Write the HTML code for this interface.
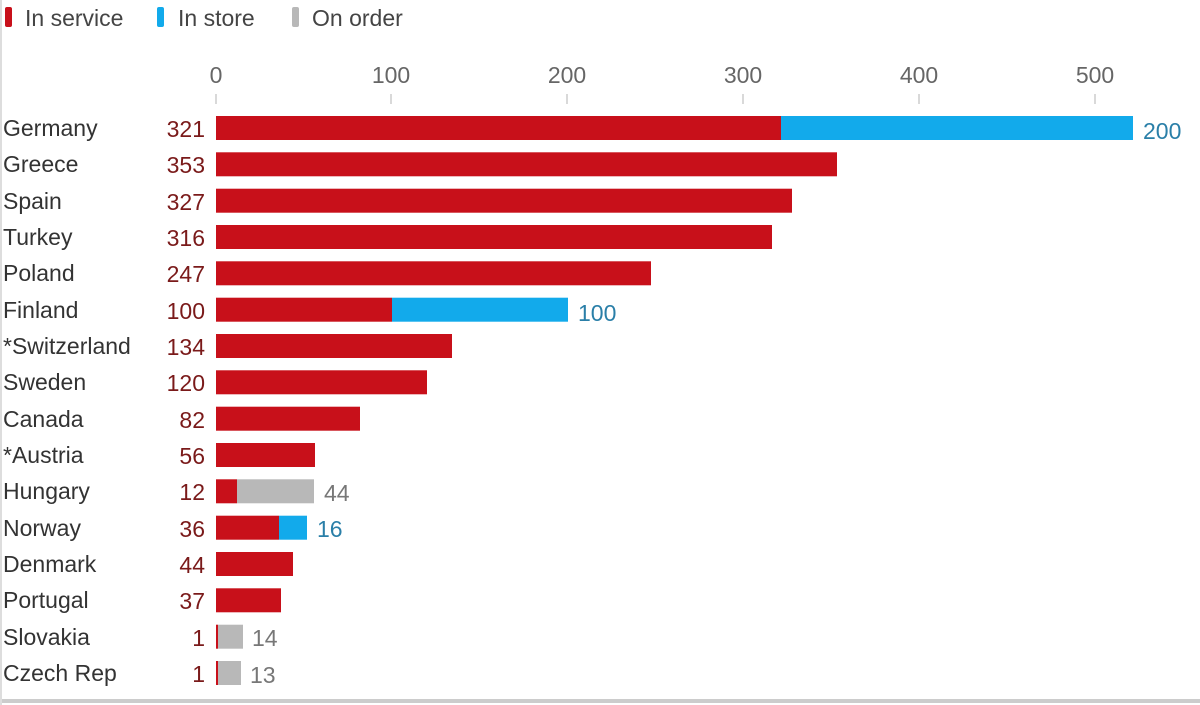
<!DOCTYPE html><html><head><style>body{margin:0;background:#fff}svg{display:block}text{font-family:"Liberation Sans",sans-serif;font-size:23px}</style></head><body>
<svg width="1200" height="705" viewBox="0 0 1200 705">
<rect x="0" y="0" width="1200" height="705" fill="#fff"/>
<line x1="0" y1="701" x2="1200" y2="701" stroke="#ccc" stroke-width="4"/>
<line x1="1" y1="0" x2="1" y2="705" stroke="#ddd" stroke-width="2"/>
<rect x="5" y="7" width="7" height="20" rx="2" fill="#c8101a"/><text x="25" y="26" fill="#444">In service</text>
<rect x="157" y="7" width="7" height="20" rx="2" fill="#12aaeb"/><text x="178" y="26" fill="#444">In store</text>
<rect x="292" y="7" width="7" height="20" rx="2" fill="#b8b8b8"/><text x="312" y="26" fill="#444">On order</text>
<g fill="#666" text-anchor="middle">
<text x="216" y="83">0</text><text x="391" y="83">100</text><text x="567" y="83">200</text><text x="743" y="83">300</text><text x="919" y="83">400</text><text x="1095" y="83">500</text></g>
<g stroke="#ccc" stroke-width="1.5"><line x1="216" y1="94" x2="216" y2="104"/><line x1="391" y1="94" x2="391" y2="104"/><line x1="567" y1="94" x2="567" y2="104"/><line x1="743" y1="94" x2="743" y2="104"/><line x1="919" y1="94" x2="919" y2="104"/><line x1="1095" y1="94" x2="1095" y2="104"/></g>
<g fill="#333">
<text x="3" y="136">Germany</text><text x="3" y="172">Greece</text><text x="3" y="209">Spain</text><text x="3" y="245">Turkey</text><text x="3" y="281">Poland</text><text x="3" y="318">Finland</text><text x="3" y="354">*Switzerland</text><text x="3" y="390">Sweden</text><text x="3" y="427">Canada</text><text x="3" y="463">*Austria</text><text x="3" y="499">Hungary</text><text x="3" y="536">Norway</text><text x="3" y="572">Denmark</text><text x="3" y="608">Portugal</text><text x="3" y="645">Slovakia</text><text x="3" y="681">Czech Rep</text></g>
<g fill="#7a1a1a" text-anchor="end">
<text x="205" y="137">321</text><text x="205" y="173">353</text><text x="205" y="210">327</text><text x="205" y="246">316</text><text x="205" y="282">247</text><text x="205" y="319">100</text><text x="205" y="355">134</text><text x="205" y="391">120</text><text x="205" y="428">82</text><text x="205" y="464">56</text><text x="205" y="500">12</text><text x="205" y="537">36</text><text x="205" y="573">44</text><text x="205" y="609">37</text><text x="205" y="646">1</text><text x="205" y="682">1</text></g>
<g fill="#c8101a">
<rect x="216" y="116" width="565" height="24"/><rect x="216" y="152.3" width="621" height="24"/><rect x="216" y="188.7" width="576" height="24"/><rect x="216" y="225" width="556" height="24"/><rect x="216" y="261.3" width="435" height="24"/><rect x="216" y="297.7" width="176" height="24"/><rect x="216" y="334" width="236" height="24"/><rect x="216" y="370.3" width="211" height="24"/><rect x="216" y="406.7" width="144" height="24"/><rect x="216" y="443" width="99" height="24"/><rect x="216" y="479.3" width="21" height="24"/><rect x="216" y="515.7" width="63" height="24"/><rect x="216" y="552" width="77" height="24"/><rect x="216" y="588.3" width="65" height="24"/><rect x="216" y="624.7" width="2" height="24"/><rect x="216" y="661" width="2" height="24"/></g>
<g fill="#12aaeb"><rect x="781" y="116" width="352" height="24"/><rect x="392" y="297.7" width="176" height="24"/><rect x="279" y="515.7" width="28" height="24"/></g>
<g fill="#b8b8b8"><rect x="237" y="479.3" width="77" height="24"/><rect x="218" y="624.7" width="25" height="24"/><rect x="218" y="661" width="23" height="24"/></g>
<g fill="#2a7fa8"><text x="1143" y="139">200</text><text x="578" y="321">100</text><text x="317" y="537">16</text></g>
<g fill="#777"><text x="324" y="501">44</text><text x="252" y="646">14</text><text x="250" y="683">13</text></g>
</svg></body></html>
